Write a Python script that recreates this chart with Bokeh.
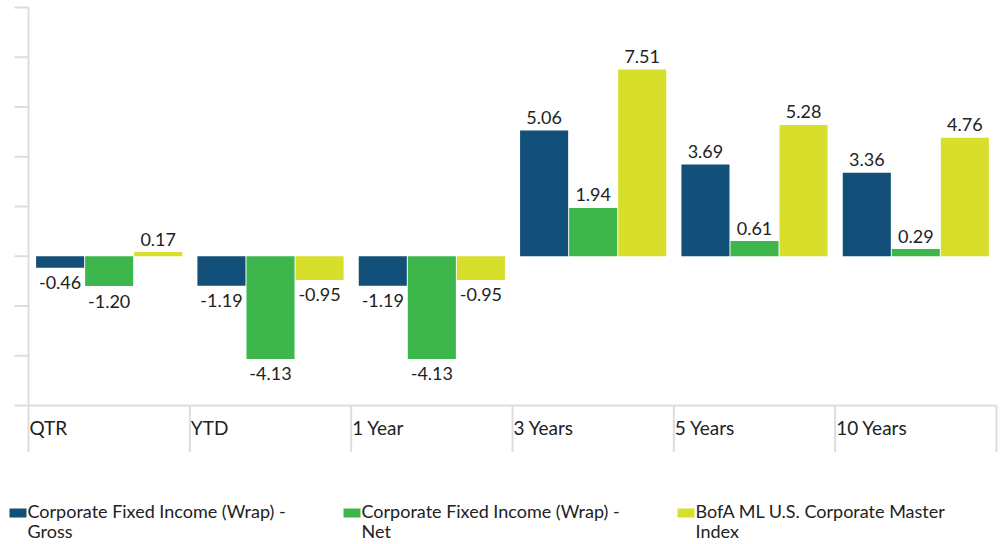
from bokeh.plotting import figure
from bokeh.layouts import column
from bokeh.models import ColumnDataSource, Range1d
from bokeh.embed import file_html
from bokeh.resources import INLINE
from bokeh.core.properties import value

categories = ["QTR", "YTD", "1 Year", "3 Years", "5 Years", "10 Years"]
gross = [-0.46, -1.19, -1.19, 5.06, 3.69, 3.36]
net = [-1.20, -4.13, -4.13, 1.94, 0.61, 0.29]
index_vals = [0.17, -0.95, -0.95, 7.51, 5.28, 4.76]
series_names = ["Corporate Fixed Income (Wrap) -\nGross",
                "Corporate Fixed Income (Wrap) -\nNet",
                "BofA ML U.S. Corporate Master\nIndex"]
colors = ["#124F79", "#3DB64B", "#D8DF2A"]
y_ticks = [-6, -4, -2, 0, 2, 4, 6, 8, 10]

FONT = "Lato"
TXT = "#222222"
AX = "#dddddd"

# ---- layout constants (pixels) ----
W = 1003
CHART_H = 452
LEFT_PAD, RIGHT_PAD, TOP_PAD = 28, 7, 7
SEP_DROP = 47         # separators hang below the value axis baseline
TICK_LEN = 14
Y_MIN, Y_MAX = -6, 10
PX_X = (W - LEFT_PAD - RIGHT_PAD) / len(categories)
PX_Y = (CHART_H - TOP_PAD - SEP_DROP) / (Y_MAX - Y_MIN)
Y_LO = Y_MIN - SEP_DROP / PX_Y
Y_HI = Y_MAX + TOP_PAD / PX_Y
n_cat = len(categories)

p = figure(width=W, height=CHART_H, output_backend="svg", toolbar_location=None,
           x_range=Range1d(-LEFT_PAD / PX_X, n_cat + RIGHT_PAD / PX_X),
           y_range=Range1d(Y_LO, Y_HI),
           x_axis_location=None, y_axis_location=None,
           min_border_left=0, min_border_right=0, min_border_top=0, min_border_bottom=0)
p.outline_line_color = None
p.xgrid.visible = False
p.ygrid.visible = False

# value axis line + ticks
p.segment(x0=[0], y0=[Y_LO], x1=[0], y1=[Y_MAX], line_color=AX, line_width=2)
p.segment(x0=[-TICK_LEN / PX_X] * len(y_ticks), y0=y_ticks, x1=[0] * len(y_ticks), y1=y_ticks,
          line_color=AX, line_width=2)
# category axis baseline + separators
p.segment(x0=[0], y0=[Y_MIN], x1=[n_cat], y1=[Y_MIN], line_color=AX, line_width=2)
sep_x = list(range(1, n_cat + 1))
p.segment(x0=sep_x, y0=[Y_MIN] * len(sep_x), x1=sep_x, y1=[Y_LO] * len(sep_x),
          line_color=AX, line_width=2)

cat_src = ColumnDataSource(dict(x=list(range(n_cat)), y=[Y_MIN] * n_cat, text=categories))
p.text(x="x", y="y", text="text", source=cat_src, x_offset=1, y_offset=22,
       text_align="left", text_baseline="alphabetic",
       text_font=value(FONT), text_font_size="19px", text_color=TXT)

offsets = [-0.304, 0.0, 0.304]
for vals, off, col in zip([gross, net, index_vals], offsets, colors):
    xs = [i + 0.5 + off for i in range(n_cat)]
    src = ColumnDataSource(dict(
        x=xs, top=vals,
        label=["%.2f" % v for v in vals],
        yoff=[-13 if v >= 0 else 15 for v in vals],
    ))
    p.vbar(x="x", top="top", bottom=0, width=0.298, source=src,
           fill_color=col, line_color=None)
    p.text(x="x", y="top", text="label", source=src, y_offset="yoff",
           text_align="center", text_baseline="alphabetic",
           text_font=value(FONT), text_font_size="18px", text_color=TXT)

# ---- legend drawn in its own pixel-space figure below the chart ----
LG_H = 544 - CHART_H
lg = figure(width=W, height=LG_H, output_backend="svg", toolbar_location=None,
            x_axis_location=None, y_axis_location=None,
            x_range=Range1d(0, W), y_range=Range1d(LG_H, 0),
            min_border_left=0, min_border_right=0, min_border_top=0, min_border_bottom=0)
lg.outline_line_color = None
lg.xgrid.visible = False
lg.ygrid.visible = False

ITEM_X0, ITEM_STEP = 9, 334
SW_W, SW_TOP, SW_BOTTOM = 17, 56, 65
TEXT_GAP, LINE_GAP = 18, 20
n = len(series_names)
lefts = [ITEM_X0 + ITEM_STEP * i for i in range(n)]
lg.quad(left=lefts, right=[l + SW_W for l in lefts], top=[SW_TOP] * n, bottom=[SW_BOTTOM] * n,
        fill_color=colors, line_color=None)
first = [s.split("\n")[0] for s in series_names]
second = [s.split("\n")[1] if "\n" in s else "" for s in series_names]
tx = [l + TEXT_GAP for l in lefts]
lg.text(x=tx, y=[SW_BOTTOM] * n, text=first, y_offset=-7,
        text_align="left", text_baseline="alphabetic",
        text_font=value(FONT), text_font_size="18px", text_color=TXT)
lg.text(x=tx, y=[SW_BOTTOM] * n, text=second, y_offset=-7 + LINE_GAP,
        text_align="left", text_baseline="alphabetic",
        text_font=value(FONT), text_font_size="18px", text_color=TXT)

layout = column(p, lg, spacing=0)
open("out.html", "w").write(file_html(layout, INLINE))
